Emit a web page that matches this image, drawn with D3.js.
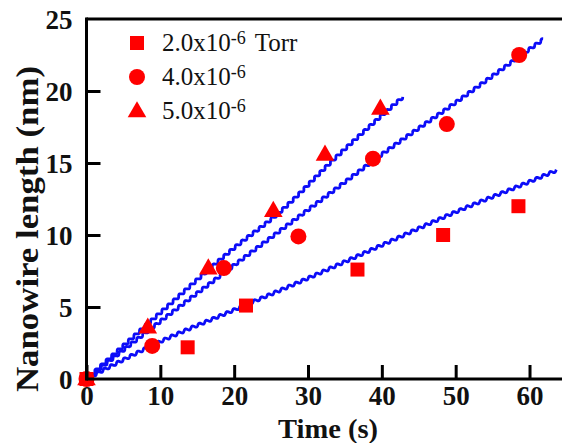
<!DOCTYPE html>
<html>
<head>
<meta charset="utf-8">
<script src="https://cdn.jsdelivr.net/npm/d3@7"></script>
<style>
  body { margin: 0; background: #fff; }
  svg { display: block; }
</style>
</head>
<body>
<div id="chart"></div>
<script>
// measured points, time (s) vs length (nm)
var sq_t = [0, 13.7, 21.6, 36.7, 48.3, 58.5];
var sq_v = [0, 2.2, 5.1, 7.6, 10.0, 12.0];
var ci_t = [0, 8.9, 18.6, 28.7, 38.8, 48.8, 58.6];
var ci_v = [0, 2.3, 7.7, 9.9, 15.3, 17.7, 22.5];
var tr_t = [0, 8.3, 16.5, 25.3, 32.3, 39.8];
var tr_v = [0, 3.6, 7.7, 11.7, 15.6, 18.8];

// fit curves
var fit1_t = [0, 10, 20, 30, 40, 50, 60, 63.7];
var fit1_v = [0, 2.6, 4.8, 7.0, 9.3, 11.6, 13.7, 14.5];
var fit2_t = [0, 10, 20, 33, 40, 50, 60, 61.9];
var fit2_v = [0, 4.0, 7.9, 12.9, 15.6, 19.2, 22.9, 23.6];
var fit3_t = [0, 10, 20, 26.2, 33.4, 40, 42.9];
var fit3_v = [0, 4.6, 9.1, 11.6, 15.2, 18.3, 19.6];

var xTicks = [0, 10, 20, 30, 40, 50, 60];
var yTicks = [0, 5, 10, 15, 20, 25];
var legendLabels = ["2.0x10", "4.0x10", "5.0x10"];

var W = 562, H = 443;
var svg = d3.select("#chart").append("svg")
    .attr("width", W).attr("height", H);

var x = d3.scaleLinear().domain([0, 64.4]).range([86.5, 562]);
var y = d3.scaleLinear().domain([0, 25]).range([379, 19]);

var serif = "'Liberation Serif', 'Times New Roman', serif";

function zip(a, b) { return a.map(function(d, i) { return [d, b[i]]; }); }

// fit lines
var line = d3.line()
    .x(function(d) { return x(d[0]); })
    .y(function(d) { return y(d[1]); })
    .curve(d3.curveMonotoneX);

// the scanned figure shows the fit lines with a fine ripple; restyle a drawn path that way
function ripple(path, amp, period) {
  var node = path.node(), len = node.getTotalLength(), pts = [];
  for (var s = 0; s <= len; s += 0.5) {
    var p = node.getPointAtLength(s);
    var q = node.getPointAtLength(Math.min(len, s + 0.5));
    var r = node.getPointAtLength(Math.max(0, s - 0.5));
    var dx = q.x - r.x, dy = q.y - r.y, n = Math.hypot(dx, dy) || 1;
    var o = amp * Math.sin(2 * Math.PI * s / period);
    pts.push([p.x - dy / n * o, p.y + dx / n * o]);
  }
  path.attr("d", d3.line()(pts));
}

[zip(fit1_t, fit1_v), zip(fit2_t, fit2_v), zip(fit3_t, fit3_v)].forEach(function(pts) {
  var p = svg.append("path")
     .attr("d", line(pts))
     .attr("fill", "none")
     .attr("stroke", "#0c0cf8")
     .attr("stroke-width", 2.8)
     .attr("stroke-linejoin", "round");
  ripple(p, 1.3, 7.5);
});

// markers
var red = "#ff0000";
svg.selectAll("rect.sq").data(zip(sq_t, sq_v)).enter().append("rect")
   .attr("class", "sq")
   .attr("x", function(d) { return x(d[0]) - 7; })
   .attr("y", function(d) { return y(d[1]) - 7; })
   .attr("width", 14).attr("height", 14)
   .attr("fill", red);

svg.selectAll("circle.ci").data(zip(ci_t, ci_v)).enter().append("circle")
   .attr("class", "ci")
   .attr("cx", function(d) { return x(d[0]); })
   .attr("cy", function(d) { return y(d[1]); })
   .attr("r", 8)
   .attr("fill", red);

var tri = d3.symbol().type(d3.symbolTriangle).size(150);
svg.selectAll("path.tr").data(zip(tr_t, tr_v)).enter().append("path")
   .attr("class", "tr")
   .attr("d", tri)
   .attr("transform", function(d) { return "translate(" + x(d[0]) + "," + (y(d[1]) + 1) + ")"; })
   .attr("fill", red);

// axes
var xAxis = d3.axisBottom(x).tickValues(xTicks).tickSize(-14).tickPadding(15).tickFormat(d3.format("d"));
var yAxis = d3.axisLeft(y).tickValues(yTicks).tickSize(-14).tickPadding(18).tickFormat(d3.format("d"));

var gx = svg.append("g").attr("transform", "translate(0," + y(0) + ")").call(xAxis);
var gy = svg.append("g").attr("transform", "translate(" + x(0) + ",0)").call(yAxis);

[gx, gy].forEach(function(g) {
  g.select(".domain").remove();
  g.selectAll(".tick line").attr("stroke", "#000").attr("stroke-width", 3);
  g.selectAll(".tick text")
   .attr("fill", "#111")
   .style("font-family", serif)
   .style("font-weight", "bold")
   .style("font-size", "27px");
});
gx.selectAll(".tick text").attr("dy", "0.4em");
gy.selectAll(".tick text").attr("dx", "4px").attr("dy", "0.34em");
gy.selectAll(".tick").filter(function(d) { return d === 0 || d === 25; }).select("line").remove();

// frame: left, bottom, top
svg.append("line").attr("x1", x(0)).attr("x2", x(0)).attr("y1", y(25) - 1.5).attr("y2", y(0) + 1.5)
   .attr("stroke", "#000").attr("stroke-width", 3);
svg.append("line").attr("x1", x(0)).attr("x2", W).attr("y1", y(0)).attr("y2", y(0))
   .attr("stroke", "#000").attr("stroke-width", 3);
svg.append("line").attr("x1", x(0)).attr("x2", W).attr("y1", y(25)).attr("y2", y(25))
   .attr("stroke", "#000").attr("stroke-width", 3);

// axis titles
svg.append("text")
   .attr("x", 328).attr("y", 438)
   .attr("text-anchor", "middle")
   .style("font-family", serif).style("font-weight", "bold").style("font-size", "28px")
   .attr("fill", "#111")
   .attr("textLength", 100).attr("lengthAdjust", "spacingAndGlyphs")
   .text("Time (s)");

svg.append("text")
   .attr("transform", "translate(38,229) rotate(-90)")
   .attr("text-anchor", "middle")
   .style("font-family", serif).style("font-weight", "bold").style("font-size", "31px")
   .attr("fill", "#111")
   .attr("textLength", 326).attr("lengthAdjust", "spacingAndGlyphs")
   .text("Nanowire length (nm)");

// legend
var legY = [43, 77, 111];
var lg = svg.append("g");
lg.append("rect").attr("x", 130).attr("y", legY[0] - 7).attr("width", 14).attr("height", 14).attr("fill", red);
lg.append("circle").attr("cx", 137).attr("cy", legY[1]).attr("r", 8).attr("fill", red);
lg.append("path").attr("d", tri).attr("transform", "translate(137," + (legY[2] + 1) + ")").attr("fill", red);

legendLabels.forEach(function(lab, i) {
  var t = lg.append("text")
     .attr("x", 162).attr("y", legY[i] + 8)
     .style("font-family", serif).style("font-size", "25px")
     .attr("fill", "#111");
  t.append("tspan").text(lab);
  t.append("tspan").attr("dy", -7).style("font-size", "18px").text("-6");
  if (i === 0) t.append("tspan").attr("dy", 7).attr("dx", 9).text("Torr");
});
</script>
</body>
</html>
